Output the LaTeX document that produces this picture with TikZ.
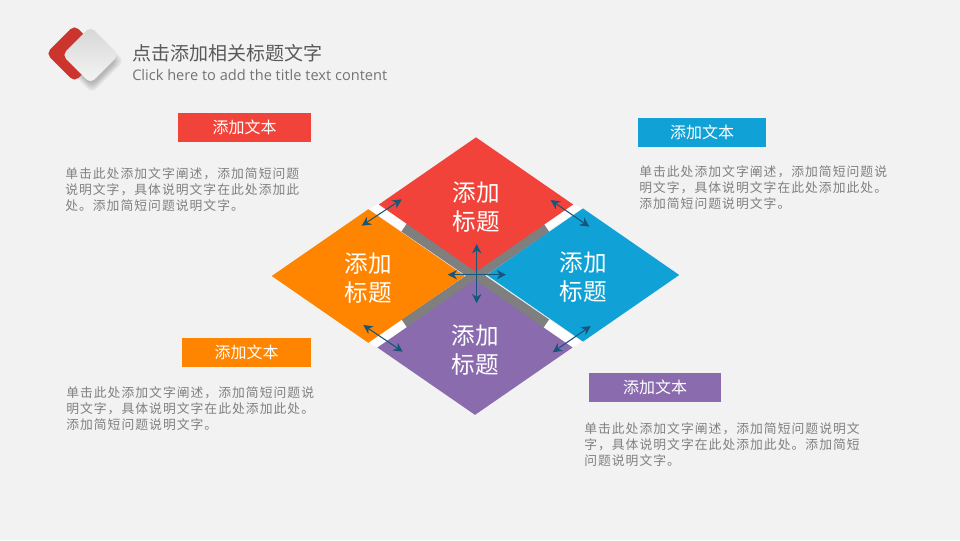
\documentclass[tikz,border=0pt]{standalone}
\usepackage{fontspec}
\setmainfont{Noto Sans CJK SC}
\newfontfamily\bodyfont[LetterSpace=8]{Noto Sans CJK SC}
\newfontfamily\latinfont{Open Sans}
\usetikzlibrary{shapes.geometric, arrows.meta}
\definecolor{bgcol}{HTML}{F2F2F2}
\definecolor{redcol}{HTML}{F1433A}
\definecolor{orangecol}{HTML}{FF8400}
\definecolor{bluecol}{HTML}{10A2D6}
\definecolor{purplecol}{HTML}{8A6BAE}
\definecolor{arrowcol}{HTML}{17567A}
\definecolor{bandcol}{HTML}{7F7F7F}
\definecolor{bodycol}{HTML}{808080}
\definecolor{logocol}{HTML}{CB352D}
\newcommand{\petalstrut}{\rule{0pt}{18pt}}
\tikzset{
	petal/.style={diamond, aspect=1.45, inner sep=0pt, text=white, align=center,
		font=\fontsize{17.7}{21.75}\selectfont},
	tagbox/.style={inner sep=0pt, text=white, font=\fontsize{12}{14}\selectfont,
		minimum height=21.75pt},
	bodytext/.style={anchor=west, inner sep=0pt, align=left, text=bodycol,
		font=\bodyfont\fontsize{9.6}{12}\selectfont},
	link/.style={{Stealth[length=7pt,width=7pt]}-{Stealth[length=7pt,width=7pt]},
		arrowcol, line width=0.8pt},
	band/.style={line width=8.25pt, bandcol},
	logotile/.style={rounded corners=4pt, rotate=45, minimum size=30pt}
}
\begin{document}
\begin{tikzpicture}[x=0.75pt,y=-0.75pt]
	\useasboundingbox[fill=bgcol] (0,0) rectangle (960,540);

	% Logo
	\foreach \s in {0,1,...,7}
		\node[logotile, fill=black, opacity=0.03, minimum size=26pt+\s*1.2pt] at (92,61) {};
	\node (logored) [logotile, fill=logocol] at (74.5,53.5) {};
	\node (logogray) [logotile, shade, shading=axis, top color=white!84!black, bottom color=white!96!black, shading angle=0] at (90.5,55) {};

	% Title
	\node (title) [anchor=west, inner sep=0pt, text=black!65, font=\fontsize{14.25}{16}\selectfont] at (132,53) {点击添加相关标题文字};
	\node (subtitle) [anchor=west, inner sep=0pt, text=black!55, font=\latinfont\fontsize{10.95}{14}\selectfont] at (132,75.5) {Click here to add the title text content};

	% Bands under the petals
	\coordinate (ul1) at (369,209);
	\coordinate (ul2) at (378.5,204);
	\coordinate (ur1) at (573,204);
	\coordinate (ur2) at (581.7,208.3);
	\coordinate (lr1) at (581.7,341.7);
	\coordinate (lr2) at (572.7,347.3);
	\coordinate (ll1) at (377.3,347.3);
	\coordinate (ll2) at (369,342.7);
	\coordinate (gul) at (404.5,227);
	\coordinate (gur) at (546.3,227.5);
	\coordinate (gll) at (404.7,324);
	\coordinate (glr) at (546,324);
	\fill[white] (ul1) -- (ul2) -- (lr1) -- (lr2) -- cycle;
	\fill[white] (ur1) -- (ur2) -- (ll1) -- (ll2) -- cycle;
	\draw[band] (gul) -- (glr);
	\draw[band] (gur) -- (gll);

	% Petals
	\node (red) [petal, fill=redcol, minimum width=145.9pt, minimum height=100.9pt] at (476,204.5) {\petalstrut 添加\\标题};
	\node (orange) [petal, fill=orangecol, minimum width=145pt, minimum height=100.3pt] at (368.3,276) {\petalstrut 添加\\标题};
	\node (blue) [petal, fill=bluecol, minimum width=144.5pt, minimum height=100pt] at (583,275) {\petalstrut 添加\\标题};
	\node (purple) [petal, fill=purplecol, minimum width=146.5pt, minimum height=101.2pt] at (475,347.5) {\petalstrut 添加\\标题};

	% Arrows
	\coordinate (a1) at (401.7,199.3);
	\coordinate (a2) at (361.7,225.7);
	\coordinate (b1) at (550.7,200);
	\coordinate (b2) at (589.3,226.7);
	\coordinate (c1) at (363.3,325);
	\coordinate (c2) at (402.7,351.7);
	\coordinate (d1) at (590.7,326);
	\coordinate (d2) at (552.7,352.3);
	\coordinate (v1) at (476.7,244);
	\coordinate (v2) at (476.7,303.3);
	\coordinate (h1) at (447.7,274.7);
	\coordinate (h2) at (506,274.7);
	\draw[link] (a1) -- (a2);
	\draw[link] (b1) -- (b2);
	\draw[link] (c1) -- (c2);
	\draw[link] (d1) -- (d2);
	\draw[link] (v1) -- (v2);
	\draw[link] (h1) -- (h2);

	% Tags
	\node (tagred) [tagbox, fill=redcol, minimum width=99.75pt] at (244.5,127.5) {添加文本};
	\node (tagblue) [tagbox, fill=bluecol, minimum width=96pt] at (702,132.5) {添加文本};
	\node (tagorange) [tagbox, fill=orangecol, minimum width=96.75pt] at (246.5,352.5) {添加文本};
	\node (tagpurple) [tagbox, fill=purplecol, minimum width=99pt] at (655,387.5) {添加文本};

	% Descriptions
	\node (textred) [bodytext] at (65,190) {单击此处添加文字阐述，添加简短问题\\说明文字，具体说明文字在此处添加此\\处。添加简短问题说明文字。};
	\node (textblue) [bodytext] at (639,188) {单击此处添加文字阐述，添加简短问题说\\明文字，具体说明文字在此处添加此处。\\添加简短问题说明文字。};
	\node (textorange) [bodytext] at (66,409) {单击此处添加文字阐述，添加简短问题说\\明文字，具体说明文字在此处添加此处。\\添加简短问题说明文字。};
	\node (textpurple) [bodytext] at (584,445) {单击此处添加文字阐述，添加简短问题说明文\\字，具体说明文字在此处添加此处。添加简短\\问题说明文字。};
\end{tikzpicture}
\end{document}
